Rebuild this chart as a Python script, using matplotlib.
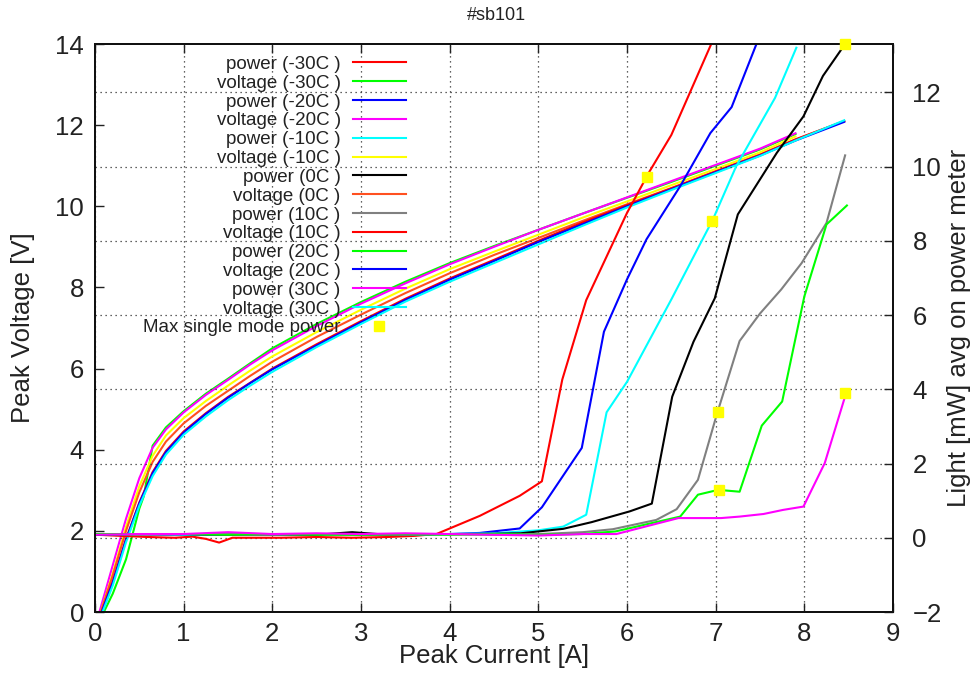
import matplotlib
matplotlib.use("Agg")
import matplotlib.pyplot as plt

plt.rcParams['font.family'] = ['Liberation Sans', 'DejaVu Sans']

# voltage curves (left axis) - common current grid
v_x = [0.05, 0.2, 0.35, 0.5, 0.65, 0.8, 1.0, 1.25, 1.5, 1.75, 2.0, 2.5, 3.0,
       3.5, 4.0, 4.5, 5.0, 5.5, 6.0, 6.5, 7.0, 7.5, 7.9, 8.45]
v_x_green = [0.1, 0.2, 0.35, 0.5, 0.55, 0.65, 0.8, 1.0, 1.25, 1.5, 1.75, 2.0, 2.5,
             3.0, 3.5, 4.0, 4.5, 5.0, 5.5, 6.0, 6.5, 7.0, 7.5, 7.9]

volt_m30 = [0.0, 0.45, 1.3, 2.55, 2.85, 4.1, 4.55, 4.95, 5.38, 5.75, 6.13, 6.5, 7.1,
            7.64, 8.14, 8.6, 9.02, 9.42, 9.82, 10.21, 10.6, 11.0, 11.4, 11.78]
volt_m20 = [0.0, 1.15, 2.3, 3.3, 4.05, 4.5, 4.92, 5.35, 5.72, 6.1, 6.45, 7.05, 7.6,
            8.1, 8.57, 9.0, 9.42, 9.82, 10.22, 10.62, 11.02, 11.42, 11.8]
volt_m10 = [-0.1, 0.95, 2.1, 3.1, 3.85, 4.35, 4.78, 5.2, 5.58, 5.95, 6.3, 6.9, 7.45,
            7.97, 8.45, 8.88, 9.3, 9.72, 10.12, 10.52, 10.92, 11.33, 11.72]
volt_0 = [-0.1, 0.9, 2.0, 2.95, 3.7, 4.2, 4.65, 5.08, 5.45, 5.82, 6.17, 6.78, 7.33,
          7.86, 8.35, 8.8, 9.22, 9.64, 10.05, 10.45, 10.86, 11.27, 11.64, 12.1]
volt_10 = [-0.15, 0.75, 1.8, 2.7, 3.45, 3.97, 4.45, 4.9, 5.3, 5.65, 6.0, 6.6, 7.17,
           7.72, 8.22, 8.68, 9.15, 9.6, 10.03, 10.44, 10.86, 11.27, 11.65, 12.1]
volt_20 = [-0.15, 0.72, 1.78, 2.68, 3.42, 3.94, 4.42, 4.88, 5.28, 5.64, 5.98, 6.57, 7.14,
           7.69, 8.19, 8.65, 9.12, 9.56, 10.0, 10.42, 10.84, 11.25, 11.62, 12.08]
volt_30 = [-0.2, 0.65, 1.72, 2.62, 3.35, 3.88, 4.37, 4.82, 5.22, 5.58, 5.92, 6.53, 7.1,
           7.65, 8.14, 8.6, 9.06, 9.52, 9.97, 10.4, 10.82, 11.24, 11.62, 12.12]

# power curves (right axis)
pow_m30_x = [0.02, 0.3, 0.6, 0.9, 1.1, 1.25, 1.4, 1.55, 1.8, 2.1, 2.5, 2.9, 3.3, 3.6,
             3.85, 4.34, 4.79, 5.04, 5.27, 5.54, 6.0, 6.25, 6.5, 6.95]
pow_m30 = [0.08, 0.05, 0.02, 0.0, 0.03, -0.03, -0.13, 0.0, 0.0, 0.0, 0.02, 0.0, 0.02, 0.05,
           0.1, 0.59, 1.13, 1.52, 4.26, 6.4, 8.75, 9.85, 10.85, 13.3]
pow_m20_x = [0.02, 0.4, 0.8, 1.2, 1.6, 2.0, 2.4, 2.8, 3.2, 3.6, 4.0, 4.34, 4.79, 5.04,
             5.49, 5.74, 6.0, 6.22, 6.6, 6.94, 7.18, 7.46]
pow_m20 = [0.08, 0.1, 0.08, 0.08, 0.1, 0.08, 0.08, 0.1, 0.08, 0.08, 0.1, 0.13, 0.25, 0.82,
           2.42, 5.55, 6.96, 8.04, 9.47, 10.9, 11.6, 13.3]
pow_m10_x = [0.02, 0.5, 1.0, 1.5, 2.0, 2.5, 3.0, 3.5, 4.0, 4.5, 5.0, 5.28, 5.54, 5.77,
             6.0, 6.5, 6.97, 7.23, 7.67, 7.91]
pow_m10 = [0.08, 0.1, 0.08, 0.1, 0.1, 0.08, 0.1, 0.08, 0.1, 0.12, 0.2, 0.3, 0.62, 3.38,
           4.2, 6.42, 8.58, 10.0, 11.85, 13.2]
pow_0_x = [0.02, 0.5, 1.0, 1.5, 2.0, 2.5, 2.9, 3.3, 3.8, 4.3, 4.8, 5.28, 5.6, 6.03, 6.28,
           6.51, 6.75, 6.99, 7.25, 7.69, 7.99, 8.21, 8.46]
pow_0 = [0.08, 0.1, 0.1, 0.08, 0.1, 0.08, 0.15, 0.08, 0.1, 0.1, 0.12, 0.24, 0.42, 0.71, 0.92,
         3.8, 5.28, 6.45, 8.71, 10.37, 11.35, 12.44, 13.3]
pow_10_x = [0.02, 0.5, 1.0, 1.5, 2.0, 2.5, 3.0, 3.5, 4.0, 4.5, 5.0, 5.5, 5.84, 6.33, 6.56,
            6.8, 7.01, 7.27, 7.5, 7.74, 7.97, 8.25, 8.46]
pow_10 = [0.1, 0.08, 0.1, 0.1, 0.08, 0.1, 0.08, 0.08, 0.1, 0.08, 0.1, 0.15, 0.23, 0.48, 0.77,
          1.56, 3.3, 5.3, 6.04, 6.69, 7.4, 8.48, 10.3]
pow_20_x = [0.02, 0.5, 1.0, 1.5, 2.0, 2.5, 3.0, 3.5, 4.0, 4.5, 5.0, 5.5, 5.87, 6.6, 6.8,
            7.03, 7.27, 7.52, 7.75, 8.0, 8.25, 8.48]
pow_20 = [0.1, 0.1, 0.1, 0.08, 0.1, 0.08, 0.08, 0.1, 0.08, 0.1, 0.08, 0.1, 0.17, 0.57, 1.16,
          1.29, 1.24, 3.02, 3.67, 6.5, 8.44, 8.95]
pow_30_x = [0.02, 0.5, 1.0, 1.5, 2.0, 2.5, 3.0, 3.5, 4.0, 4.5, 5.0, 5.5, 5.88, 6.58, 7.06,
            7.27, 7.54, 7.76, 7.99, 8.23, 8.46]
pow_30 = [0.08, 0.1, 0.1, 0.15, 0.1, 0.12, 0.1, 0.12, 0.1, 0.08, 0.06, 0.1, 0.1, 0.53, 0.53,
          0.57, 0.64, 0.75, 0.84, 2.01, 3.81]

# max single mode power points
sm_x = [6.23, 6.96, 7.03, 7.04, 8.46, 8.46]
sm_y = [9.72, 8.53, 3.38, 1.29, 13.3, 3.9]

temps = ['-30C', '-20C', '-10C', '0C', '10C', '20C', '30C']

fig = plt.figure(figsize=(9.73, 6.77), dpi=100)
ax = fig.add_axes([95 / 973, 1 - 612 / 677, 798 / 973, 568 / 677])
ax2 = ax.twinx()

lw = 1.5
volt_series = [(v_x_green, volt_m30, '#00ff00'), (v_x[:23], volt_m20, '#ff00ff'),
               (v_x[:23], volt_m10, '#ffff00'), (v_x, volt_0, '#ff5020'),
               (v_x, volt_10, '#ff0000'), (v_x, volt_20, '#0000ff'),
               (v_x, volt_30, '#00ffff')]
pow_series = [(pow_m30_x, pow_m30, '#ff0000'), (pow_m20_x, pow_m20, '#0000ff'),
              (pow_m10_x, pow_m10, '#00ffff'), (pow_0_x, pow_0, '#000000'),
              (pow_10_x, pow_10, '#808080'), (pow_20_x, pow_20, '#00ff00'),
              (pow_30_x, pow_30, '#ff00ff')]

handles = []
labels = []
for t, (px, py, pc), (vx, vy, vc) in zip(temps, pow_series, volt_series):
    hp, = ax2.plot(px, py, color=pc, lw=lw)
    hv, = ax.plot(vx, vy, color=vc, lw=lw)
    handles += [hp, hv]
    labels += ['power (%s )' % t, 'voltage (%s )' % t]

hs, = ax2.plot(sm_x, sm_y, 's', color='#ffff00', ms=7, clip_on=False, zorder=5)
handles.append(hs)
labels.append('Max single mode power')

ax.set_xlim(0, 9)
ax.set_ylim(0, 14)
ax2.set_ylim(-2, 13.3)
ax.set_xticks(range(0, 10))
ax.set_yticks(range(0, 15, 2))
ax2.set_yticks(range(-2, 13, 2))

grid_style = dict(linestyle=(0, (1, 3)), color='#303030', lw=0.9)
ax.grid(axis='x', **grid_style)
ax2.grid(axis='y', **grid_style)

ax.tick_params(axis='x', direction='in', top=True, length=6.5, width=1, labelsize=18.5, pad=7, colors='#222222')
ax.tick_params(axis='y', direction='in', length=6.5, width=1, labelsize=18.5, pad=8, colors='#222222')
ax2.tick_params(axis='y', direction='in', length=6.5, width=1, labelsize=18.5, pad=14, colors='#222222')
for a in (ax, ax2):
    for s in a.spines.values():
        s.set_linewidth(1.4)
        s.set_color('#111111')

ax.set_xlabel('Peak Current [A]', fontsize=18.5, color='#222222')
ax.set_ylabel('Peak Voltage [V]', fontsize=18.5, color='#222222')
ax2.set_ylabel('Light [mW] avg on power meter', fontsize=18.5, color='#222222')
ax.xaxis.set_label_coords(0.5, -0.056)
ax.yaxis.set_label_coords(-0.075, 0.5)
ax2.yaxis.set_label_coords(1.0677, 0.5)

fig.text(496 / 973, 1 - 16 / 677, '#sb101', ha='center', va='center', fontsize=13, color='#222222')

leg = ax2.legend(handles, labels, loc='upper right', bbox_to_anchor=(0.3897, 0.979),
                 markerfirst=False, frameon=False, fontsize=13.5, handlelength=2.83,
                 handletextpad=0.65, labelspacing=0.09, borderpad=0, borderaxespad=0)
for txt in leg.get_texts():
    txt.set_color('#222222')

fig.savefig('out.png', dpi=100)
